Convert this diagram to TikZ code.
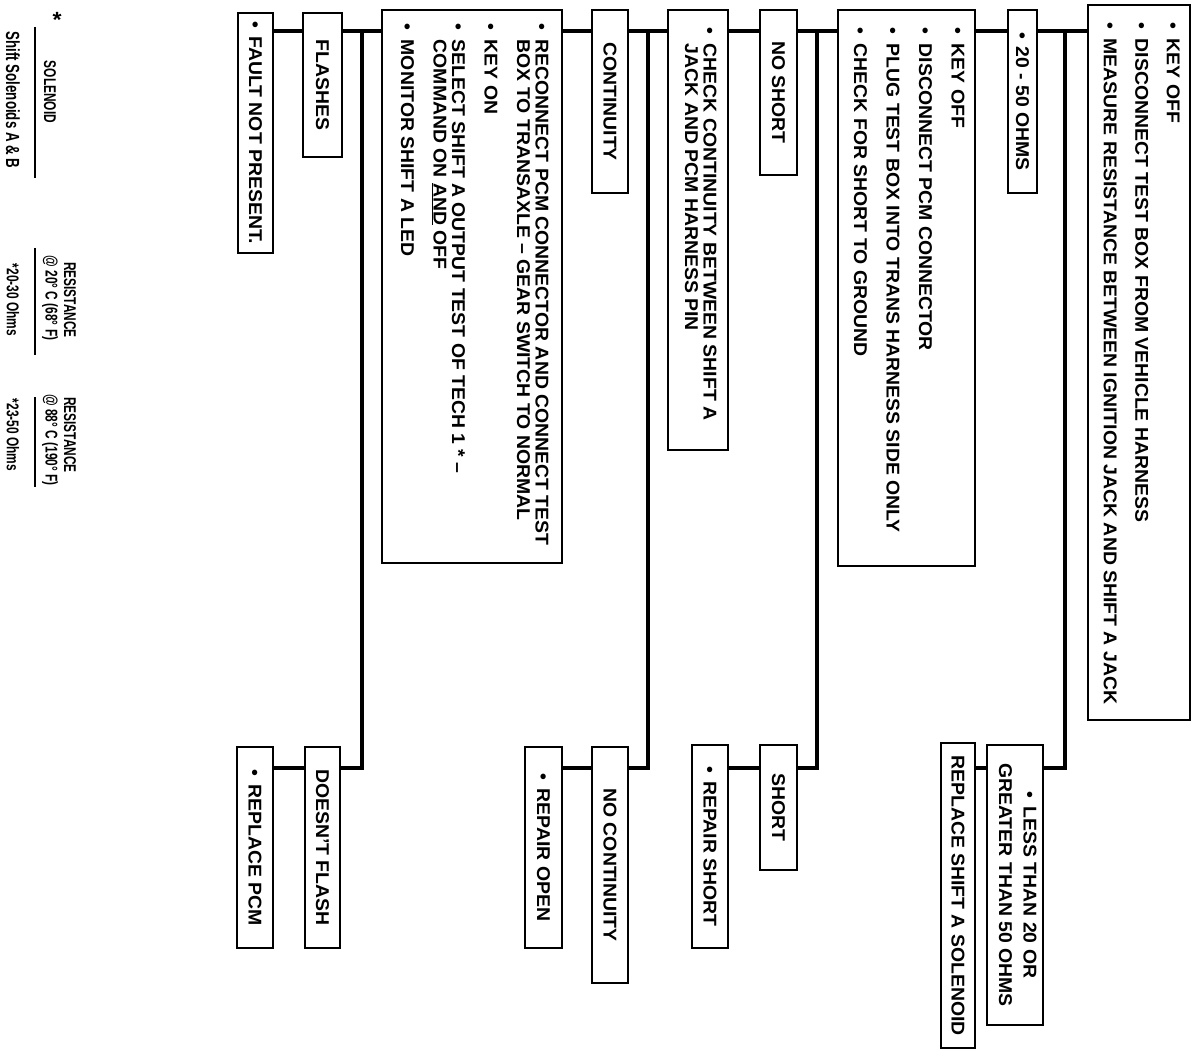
\documentclass[tikz,border=0pt]{standalone}
\usepackage{fontspec}
\setmainfont{Liberation Sans}[FakeStretch=1.05]
\newfontfamily\legfont{Liberation Sans}[FakeStretch=0.7]
\usepackage{graphicx}
\newcommand{\stepsbox}[2]{\rotatebox{-90}{\makebox[#1][l]{\begin{tabular}{@{}l@{\hspace{9pt}}l@{}}#2\end{tabular}}}}
\newcommand{\lbl}[1]{\rotatebox{-90}{#1}}
\newcommand{\ctrlbl}[1]{\rotatebox{-90}{\begin{tabular}{@{}c@{}}#1\end{tabular}}}
\newcommand{\bul}{•\hspace{8pt}}
\begin{document}
\begin{tikzpicture}[x=1pt,y=-1pt,
  box/.style={draw, line width=1.6pt, fill=white, inner sep=0pt, font=\bfseries\fontsize{18.5}{18.5}\selectfont},
  conn/.style={line width=4.5pt},
  leg/.style={inner sep=0pt, font=\legfont\bfseries\fontsize{17}{17}\selectfont},
  rule/.style={line width=1.6pt}]
\useasboundingbox (0,0) rectangle (1196,1056);
\coordinate (ty) at (0,31);
\coordinate (by) at (0,768);

% ---- boxes ----
\node[box, minimum width=102pt, minimum height=715pt] (A) at (1139,362.5)
  {\stepsbox{679pt}{• & KEY OFF\\[13pt] • & DISCONNECT TEST BOX FROM VEHICLE HARNESS\\[13pt] • & MEASURE RESISTANCE BETWEEN IGNITION JACK AND SHIFT A JACK}};
\node[box, minimum width=29pt, minimum height=183pt] (B) at (1022.5,101.5) {\lbl{\bul 20 - 50 OHMS}};
\node[box, minimum width=56pt, minimum height=280pt] (C) at (1015,885) {\ctrlbl{\bul LESS THAN 20 OR\\[6pt] GREATER THAN 50 OHMS}};
\node[box, minimum width=34pt, minimum height=305pt] (D) at (958,895.5) {\lbl{REPLACE SHIFT A SOLENOID}};
\node[box, minimum width=137pt, minimum height=556pt] (E) at (906.5,288)
  {\stepsbox{520pt}{• & KEY OFF\\[14pt] • & DISCONNECT PCM CONNECTOR\\[14pt] • & PLUG TEST BOX INTO TRANS HARNESS SIDE ONLY\\[14pt] • & CHECK FOR SHORT TO GROUND}};
\node[box, minimum width=37pt, minimum height=165pt] (F) at (778.5,92.5) {\lbl{NO SHORT}};
\node[box, minimum width=37pt, minimum height=125pt] (G) at (778.5,807.5) {\lbl{SHORT}};
\node[box, minimum width=36pt, minimum height=203pt] (H) at (710,846.5) {\lbl{\bul REPAIR SHORT}};
\node[box, minimum width=60pt, minimum height=440pt] (I) at (698,230)
  {\stepsbox{404pt}{• & CHECK CONTINUITY BETWEEN SHIFT A\\ & JACK AND PCM HARNESS PIN}};
\node[box, minimum width=36pt, minimum height=183pt] (J) at (610,101.5) {\lbl{CONTINUITY}};
\node[box, minimum width=36pt, minimum height=236pt] (K) at (610,865) {\lbl{NO CONTINUITY}};
\node[box, minimum width=37pt, minimum height=201pt] (L) at (543.5,847.5) {\lbl{\bul REPAIR OPEN}};
\node[box, minimum width=180pt, minimum height=553pt] (M) at (472,286.5)
  {\stepsbox{525pt}{• & RECONNECT PCM CONNECTOR AND CONNECT TEST\\ & BOX TO TRANSAXLE – GEAR SWITCH TO NORMAL\\[14pt] • & KEY ON\\[14pt] • & SELECT SHIFT A OUTPUT TEST OF TECH 1 * –\\ & COMMAND ON \underline{AND} OFF\\[14pt] • & MONITOR SHIFT A LED}};
\node[box, minimum width=39pt, minimum height=144pt] (N) at (322.5,85) {\lbl{FLASHES}};
\node[box, minimum width=35pt, minimum height=240pt] (O) at (255.5,133) {\lbl{\bul FAULT NOT PRESENT.}};
\node[box, minimum width=35pt, minimum height=201pt] (P) at (322.5,847.5) {\lbl{DOESN'T FLASH}};
\node[box, minimum width=36pt, minimum height=201pt] (Q) at (255,847.5) {\lbl{\bul REPLACE PCM}};

% ---- connectors ----
\coordinate (v1) at (1065,31);
\coordinate (v2) at (817,31);
\coordinate (v3) at (648,31);
\coordinate (v4) at (362,31);
\draw[conn] (A.west|-ty) -- (B.east|-ty);
\draw[conn] (B.west|-ty) -- (E.east|-ty);
\draw[conn] (v1) |- (C.east|-by);
\draw[conn] (C.west|-by) -- (D.east|-by);
\draw[conn] (E.west|-ty) -- (F.east|-ty);
\draw[conn] (v2) |- (G.east|-by);
\draw[conn] (F.west|-ty) -- (I.east|-ty);
\draw[conn] (G.west|-by) -- (H.east|-by);
\draw[conn] (I.west|-ty) -- (J.east|-ty);
\draw[conn] (v3) |- (K.east|-by);
\draw[conn] (J.west|-ty) -- (M.east|-ty);
\draw[conn] (K.west|-by) -- (L.east|-by);
\draw[conn] (M.west|-ty) -- (N.east|-ty);
\draw[conn] (v4) |- (P.east|-by);
\draw[conn] (N.west|-ty) -- (O.east|-ty);
\draw[conn] (P.west|-by) -- (Q.east|-by);

% ---- legend ----
\node[leg, font=\bfseries\fontsize{22}{22}\selectfont] (ast) at (57,20) {*};
\node[leg, rotate=-90] (h1) at (50,92) {SOLENOID};
\node[leg, rotate=-90, font=\legfont\bfseries\fontsize{19}{19}\selectfont] (d1) at (13,100) {Shift Solenoids A \& B};
\node[leg, rotate=-90] (h2a) at (70,300) {RESISTANCE};
\node[leg, rotate=-90] (h2b) at (50,298) {@ 20° C (68° F)};
\node[leg, rotate=-90] (d2) at (13,300) {*20-30 Ohms};
\node[leg, rotate=-90] (h3a) at (70,435) {RESISTANCE};
\node[leg, rotate=-90] (h3b) at (50,440) {@ 88° C (190° F)};
\node[leg, rotate=-90] (d3) at (13,435) {*23-50 Ohms};
\draw[rule] (35,27) -- (35,178);
\draw[rule] (35,248) -- (35,355);
\draw[rule] (35,397) -- (35,487);
\end{tikzpicture}
\end{document}
